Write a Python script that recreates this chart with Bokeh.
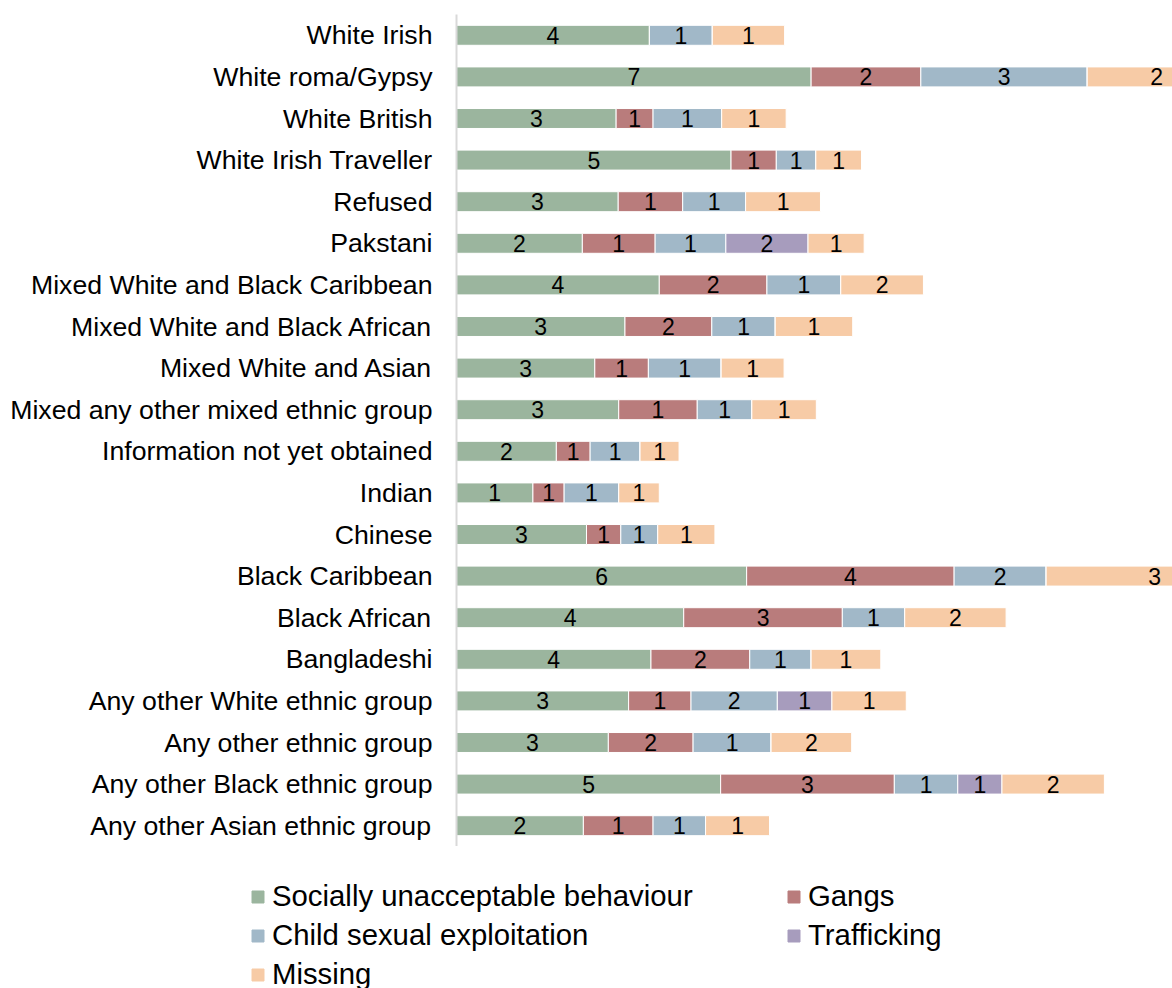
from bokeh.plotting import figure
from bokeh.models import ColumnDataSource, Legend, LegendItem, FactorRange, Range1d
from bokeh.layouts import column
from bokeh.core.properties import value
from bokeh.embed import file_html
from bokeh.resources import INLINE

# ---- data (top to bottom as in the chart) ----
groups = [
    "White Irish", "White roma/Gypsy", "White British", "White Irish Traveller",
    "Refused", "Pakstani", "Mixed White and Black Caribbean",
    "Mixed White and Black African", "Mixed White and Asian",
    "Mixed any other mixed ethnic group", "Information not yet obtained",
    "Indian", "Chinese", "Black Caribbean", "Black African", "Bangladeshi",
    "Any other White ethnic group", "Any other ethnic group",
    "Any other Black ethnic group", "Any other Asian ethnic group",
]
series_names = ["Socially unacceptable behaviour", "Gangs",
                "Child sexual exploitation", "Trafficking", "Missing"]
series_keys = ["sub", "gangs", "cse", "traff", "miss"]
colors = ["#9BB59E", "#B97C7C", "#A1B8C8", "#A79CBD", "#F7CBA6"]

# bar lengths
sub   = [3.71, 6.82, 3.07, 5.28, 3.11, 2.42, 3.90, 3.24, 2.66, 3.12,
         1.92, 1.47, 2.50, 5.58, 4.37, 3.74, 3.31, 2.92, 5.08, 2.44]
gangs = [0.00, 2.11, 0.71, 0.87, 1.24, 1.40, 2.07, 1.67, 1.03, 1.51,
         0.65, 0.60, 0.66, 3.99, 3.05, 1.90, 1.20, 1.63, 3.34, 1.34]
cse   = [1.21, 3.20, 1.32, 0.76, 1.21, 1.36, 1.42, 1.22, 1.40, 1.05,
         0.96, 1.05, 0.71, 1.77, 1.20, 1.18, 1.66, 1.50, 1.22, 1.01]
traff = [0.00, 0.00, 0.00, 0.00, 0.00, 1.58, 0.00, 0.00, 0.00, 0.00,
         0.00, 0.00, 0.00, 0.00, 0.00, 0.00, 1.05, 0.00, 0.85, 0.00]
miss  = [1.39, 2.67, 1.24, 0.88, 1.44, 1.08, 1.59, 1.49, 1.21, 1.24,
         0.75, 0.78, 1.10, 4.17, 1.95, 1.34, 1.43, 1.55, 1.97, 1.23]

# data labels as printed on the bars (0 = no label)
lab_sub   = [4, 7, 3, 5, 3, 2, 4, 3, 3, 3, 2, 1, 3, 6, 4, 4, 3, 3, 5, 2]
lab_gangs = [0, 2, 1, 1, 1, 1, 2, 2, 1, 1, 1, 1, 1, 4, 3, 2, 1, 2, 3, 1]
lab_cse   = [1, 3, 1, 1, 1, 1, 1, 1, 1, 1, 1, 1, 1, 2, 1, 1, 2, 1, 1, 1]
lab_traff = [0, 0, 0, 0, 0, 2, 0, 0, 0, 0, 0, 0, 0, 0, 0, 0, 1, 0, 1, 0]
lab_miss  = [1, 2, 1, 1, 1, 1, 2, 1, 1, 1, 1, 1, 1, 3, 2, 1, 1, 2, 2, 1]

X_MAX = 13.77

source = ColumnDataSource(dict(group=groups, sub=sub, gangs=gangs, cse=cse,
                               traff=traff, miss=miss))

# label positions (centre of each segment)
vals = [sub, gangs, cse, traff, miss]
labs = [lab_sub, lab_gangs, lab_cse, lab_traff, lab_miss]
lx, ly, lt = [], [], []
for i, g in enumerate(groups):
    left = 0.0
    for s in range(5):
        v = vals[s][i]
        if labs[s][i] > 0:
            lx.append(left + v / 2.0)
            ly.append(g)
            lt.append(str(labs[s][i]))
        left += v
label_source = ColumnDataSource(dict(x=lx, y=ly, text=lt))

FONT = "Liberation Sans"

p = figure(
    y_range=FactorRange(factors=list(reversed(groups))),
    x_range=Range1d(0, X_MAX),
    width=1172, height=846,
    output_backend="svg", toolbar_location=None,
    min_border_left=456, min_border_right=0,
    min_border_top=14, min_border_bottom=0,
)
p.frame_align = False

renderers = p.hbar_stack(series_keys, y="group", height=0.48, color=colors,
                         source=source, line_color="white", line_width=1)

p.text(x="x", y="y", text="text", source=label_source,
       text_align="center", text_baseline="middle",
       text_font=value(FONT), text_font_size=value("23px"),
       text_color="#000000")

p.xaxis.visible = False
p.xgrid.visible = False
p.ygrid.visible = False
p.outline_line_color = None

ax = p.yaxis[0]
ax.axis_line_color = "#D9D9D9"
ax.axis_line_width = 2
ax.major_tick_line_color = None
ax.minor_tick_line_color = None
ax.major_tick_out = 0
ax.major_tick_in = 0
ax.major_label_standoff = 24
ax.major_label_text_font = FONT
ax.major_label_text_font_size = "20pt"
ax.major_label_text_color = "#000000"

# ---- legend strip below the chart ----
p2 = figure(
    x_range=Range1d(0, 1), y_range=Range1d(0, 1),
    width=1172, height=142,
    output_backend="svg", toolbar_location=None,
    min_border_left=250, min_border_right=0,
    min_border_top=33, min_border_bottom=0,
)
p2.frame_align = False
p2.axis.visible = False
p2.grid.visible = False
p2.outline_line_color = None

# stand-in glyphs (out of view) that only serve as legend swatches
swatch = ColumnDataSource(dict(y=[-5.0], right=[0.0]))
leg_renderers = [p2.hbar(y="y", right="right", height=0.5, source=swatch,
                         fill_color=c, line_color=c) for c in colors]

legend = Legend(
    items=[LegendItem(label=n, renderers=[r]) for n, r in zip(series_names, leg_renderers)],
    location="top_left",
    orientation="horizontal", ncols=2,
    glyph_width=15, glyph_height=15, label_standoff=7,
    label_width=509, spacing=5,
    label_text_font=FONT, label_text_font_size="22pt",
    label_text_color="#000000",
    padding=0, margin=0,
    border_line_alpha=0, background_fill_alpha=0,
)
p2.add_layout(legend)

layout = column(p, p2, spacing=0)
open("out.html", "w").write(file_html(layout, INLINE))
